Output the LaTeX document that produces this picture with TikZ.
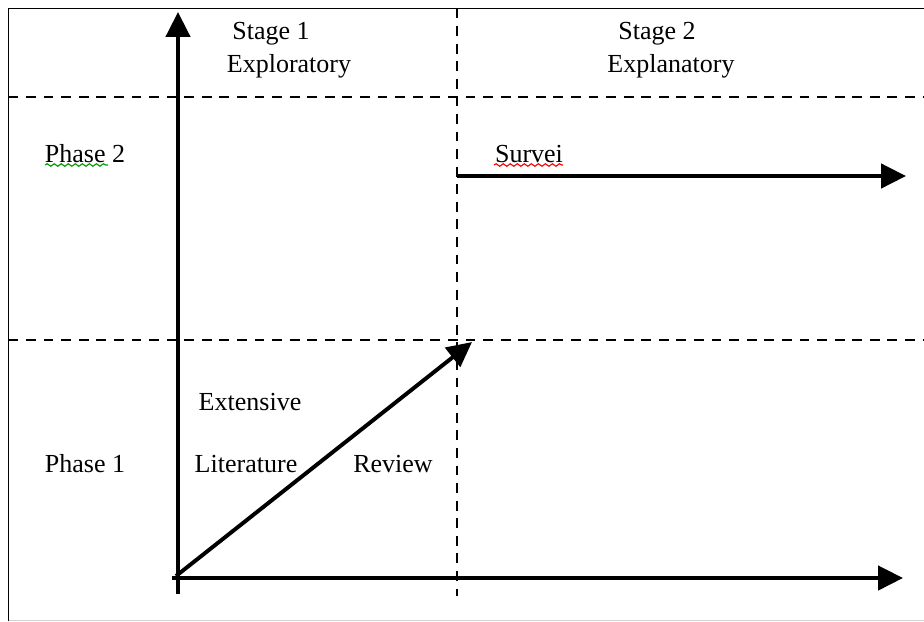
\documentclass[tikz,border=0pt]{standalone}
\usepackage{fontspec}
\setmainfont{Liberation Serif}
\usetikzlibrary{arrows.meta,decorations.pathmorphing}
\tikzset{
  axis/.style={line width=2.8pt,-{Triangle[length=0.62cm,width=0.6cm]}},
  grid/.style={line width=1pt,dash pattern=on 7pt off 5.5pt},
  lbl/.style={anchor=base,inner sep=0pt,font=\fontsize{18.5}{22}\selectfont},
  squiggle/.style={line width=0.8pt,decorate,decoration={snake,amplitude=0.9pt,segment length=5pt}}
}
\begin{document}
\begin{tikzpicture}[x=0.025cm,y=-0.025cm]
  \useasboundingbox (0,0) rectangle (924,621);
  % frame
  \draw[line width=1.4pt] (924,8.5) -- (8.5,8.5) -- (8.5,621);
  \draw[gray!35,line width=0.6pt] (8.5,620) -- (924,620);
  % dashed grid
  \draw[grid] (8.5,97) -- (924,97);
  \draw[grid] (8.5,340) -- (924,340);
  \draw[grid] (457,8.5) -- (457,596);
  % points
  \coordinate (O) at (178,578);
  \coordinate (ytop) at (178,12);
  \coordinate (ybot) at (178,594);
  \coordinate (xleft) at (172,578);
  \coordinate (xend) at (903,578);
  \coordinate (diagstart) at (176,576);
  \coordinate (diagend) at (472,342);
  \coordinate (surstart) at (457,176);
  \coordinate (surend) at (906,176);
  % labels
  \node[lbl] (stage1) at (271,39) {Stage 1};
  \node[lbl] (explor) at (289,72) {Exploratory};
  \node[lbl] (stage2) at (657,39) {Stage 2};
  \node[lbl] (explan) at (671,72) {Explanatory};
  \node[lbl] (phase2) at (85,162) {Phase 2};
  \node[lbl] (survei) at (529,162) {Survei};
  \node[lbl] (extens) at (250,410) {Extensive};
  \node[lbl] (phase1) at (85,472) {Phase 1};
  \node[lbl] (litera) at (246,472) {Literature};
  \node[lbl] (review) at (393,472) {Review};
  % spell-check marks
  \draw[squiggle,green!60!black] (45,165) -- (108,165);
  \draw[squiggle,red] (494,165) -- (563,165);
  % arrows
  \draw[axis] (ybot) -- (ytop);
  \draw[axis] (xleft) -- (xend);
  \draw[axis] (diagstart) -- (diagend);
  \draw[axis] (surstart) -- (surend);
\end{tikzpicture}
\end{document}
